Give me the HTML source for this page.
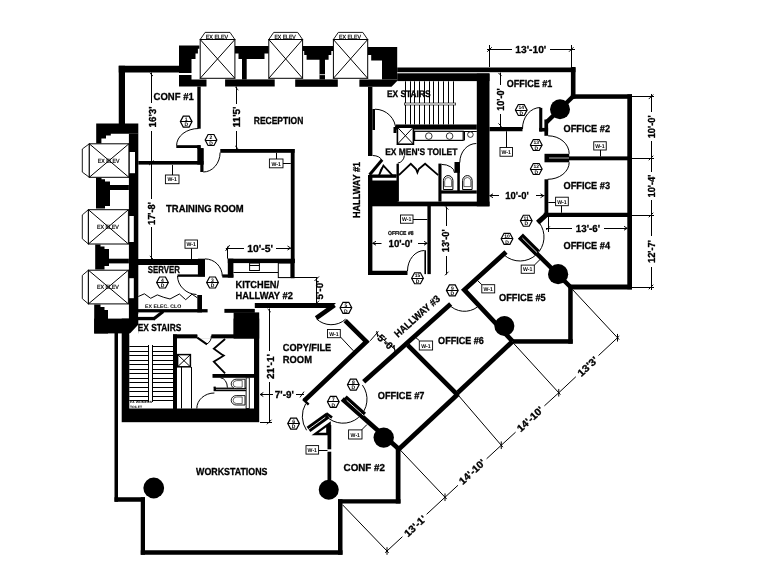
<!DOCTYPE html>
<html><head><meta charset="utf-8"><title>Floor Plan</title>
<style>
html,body{margin:0;padding:0;background:#fff;}
body{width:761px;height:588px;overflow:hidden;font-family:"Liberation Sans",sans-serif;}
svg{display:block;}
svg text{font-family:"Liberation Sans",sans-serif;fill:#000;text-rendering:geometricPrecision;}
</style></head><body>
<svg width="761" height="588" viewBox="0 0 761 588" style="filter:grayscale(1)">
<rect x="0" y="0" width="761" height="588" fill="#fff"/>
<rect x="118.75" y="65.75" width="61.25" height="6.75" fill="#000"/>
<rect x="118.75" y="65.75" width="6.25" height="58.25" fill="#000"/>
<polygon points="179.00,45.50 199.40,45.50 199.40,48.70 197.90,48.70 197.90,53.40 195.50,53.40 195.50,58.90 191.50,58.90 191.50,73.10 179.00,73.10" fill="#000" stroke="none" stroke-width="0"/>
<polygon points="179.00,75.10 191.50,75.10 191.50,79.40 206.50,79.40 206.50,86.50 179.00,86.50" fill="#000" stroke="none" stroke-width="0"/>
<polygon points="234.90,46.00 268.80,46.00 268.80,53.40 264.50,53.40 264.50,58.90 246.70,58.90 246.70,79.40 242.00,79.40 242.00,58.90 238.50,58.90 238.50,53.40 234.90,53.40" fill="#000" stroke="none" stroke-width="0"/>
<rect x="225.10" y="79.40" width="49.60" height="7.10" fill="#000"/>
<polygon points="302.60,46.00 333.40,46.00 333.40,51.00 331.30,51.00 331.30,55.00 328.60,55.00 328.60,59.70 325.00,59.70 325.00,79.40 319.50,79.40 319.50,59.70 306.60,59.70 306.60,55.00 304.20,55.00 304.20,51.00 302.60,51.00" fill="#000" stroke="none" stroke-width="0"/>
<rect x="319.50" y="74.30" width="5.50" height="0.80" fill="#fff"/>
<rect x="295.20" y="79.40" width="42.60" height="7.40" fill="#000"/>
<polygon points="367.70,47.00 397.20,47.00 397.20,79.40 382.00,79.40 382.00,60.50 371.20,60.50 371.20,55.00 367.70,55.00" fill="#000" stroke="none" stroke-width="0"/>
<polygon points="359.40,79.40 397.20,79.40 397.20,81.00 391.50,86.80 359.40,86.80" fill="#000" stroke="none" stroke-width="0"/>
<polygon points="200.20,39.50 205.10,32.40 230.00,32.40 234.90,39.50" fill="#fff" stroke="#000" stroke-width="0.9"/>
<rect x="200.20" y="39.5" width="34.70" height="38.8" fill="#fff" stroke="#000" stroke-width="1"/>
<line x1="200.20" y1="39.50" x2="234.90" y2="78.30" stroke="#000" stroke-width="1.0" stroke-linecap="butt"/>
<line x1="200.20" y1="78.30" x2="234.90" y2="39.50" stroke="#000" stroke-width="1.0" stroke-linecap="butt"/>
<text x="205.80" y="38.50" stroke="#000" stroke-width="0.2" font-size="6" font-weight="normal" textLength="22.30" lengthAdjust="spacingAndGlyphs">EX ELEV</text>
<polygon points="268.80,39.50 273.70,32.40 297.70,32.40 302.60,39.50" fill="#fff" stroke="#000" stroke-width="0.9"/>
<rect x="268.80" y="39.5" width="33.80" height="38.8" fill="#fff" stroke="#000" stroke-width="1"/>
<line x1="268.80" y1="39.50" x2="302.60" y2="78.30" stroke="#000" stroke-width="1.0" stroke-linecap="butt"/>
<line x1="268.80" y1="78.30" x2="302.60" y2="39.50" stroke="#000" stroke-width="1.0" stroke-linecap="butt"/>
<text x="274.40" y="38.50" stroke="#000" stroke-width="0.2" font-size="6" font-weight="normal" textLength="21.40" lengthAdjust="spacingAndGlyphs">EX ELEV</text>
<polygon points="333.40,39.50 338.30,32.40 362.80,32.40 367.70,39.50" fill="#fff" stroke="#000" stroke-width="0.9"/>
<rect x="333.40" y="39.5" width="34.30" height="38.8" fill="#fff" stroke="#000" stroke-width="1"/>
<line x1="333.40" y1="39.50" x2="367.70" y2="78.30" stroke="#000" stroke-width="1.0" stroke-linecap="butt"/>
<line x1="333.40" y1="78.30" x2="367.70" y2="39.50" stroke="#000" stroke-width="1.0" stroke-linecap="butt"/>
<text x="339.00" y="38.50" stroke="#000" stroke-width="0.2" font-size="6" font-weight="normal" textLength="21.90" lengthAdjust="spacingAndGlyphs">EX ELEV</text>
<rect x="397.20" y="67.50" width="178.30" height="4.70" fill="#000"/>
<rect x="397.20" y="73.30" width="92.30" height="7.80" fill="#000"/>
<rect x="476.80" y="73.60" width="12.70" height="132.70" fill="#000"/>
<polygon points="96.20,123.40 138.30,123.40 138.30,133.70 110.80,133.70 110.80,135.60 106.00,135.60 106.00,138.40 101.40,138.40 101.40,143.40 96.20,143.40" fill="#000" stroke="none" stroke-width="0"/>
<rect x="128.90" y="133.70" width="9.40" height="199.70" fill="#000"/>
<rect x="129.60" y="152.00" width="5.40" height="21.20" fill="#fff"/>
<rect x="129.40" y="216.00" width="4.40" height="26.00" fill="#fff"/>
<rect x="129.40" y="278.20" width="4.40" height="20.00" fill="#fff"/>
<polygon points="96.00,177.50 101.50,177.50 101.50,179.30 105.00,179.30 105.00,181.60 110.00,181.60 110.00,206.00 105.00,206.00 105.00,208.60 96.00,208.60" fill="#000" stroke="none" stroke-width="0"/>
<rect x="110.00" y="185.00" width="18.90" height="5.00" fill="#000"/>
<polygon points="95.20,244.50 100.50,244.50 100.50,246.50 104.50,246.50 104.50,249.00 109.00,249.00 109.00,266.00 104.50,266.00 104.50,269.40 95.20,269.40" fill="#000" stroke="none" stroke-width="0"/>
<rect x="109.00" y="258.70" width="19.90" height="4.70" fill="#000"/>
<polygon points="94.20,304.50 100.50,304.50 100.50,307.00 104.50,307.00 104.50,310.00 108.00,310.00 108.00,333.40 94.20,333.40" fill="#000" stroke="none" stroke-width="0"/>
<rect x="94.20" y="318.60" width="44.10" height="14.80" fill="#000"/>
<polygon points="89.30,143.80 82.30,149.00 82.30,172.10 89.30,177.30" fill="#fff" stroke="#000" stroke-width="0.9"/>
<rect x="89.30" y="143.8" width="39.60" height="33.5" fill="#fff" stroke="#000" stroke-width="1"/>
<line x1="89.30" y1="143.80" x2="128.90" y2="177.30" stroke="#000" stroke-width="1.0" stroke-linecap="butt"/>
<line x1="89.30" y1="177.30" x2="128.90" y2="143.80" stroke="#000" stroke-width="1.0" stroke-linecap="butt"/>
<text x="97.80" y="162.65" stroke="#000" stroke-width="0.2" font-size="6" font-weight="normal" textLength="21.60" lengthAdjust="spacingAndGlyphs">EX ELEV</text>
<polygon points="88.40,209.70 82.30,214.90 82.30,238.80 88.40,244.00" fill="#fff" stroke="#000" stroke-width="0.9"/>
<rect x="88.40" y="209.7" width="40.00" height="34.30000000000001" fill="#fff" stroke="#000" stroke-width="1"/>
<line x1="88.40" y1="209.70" x2="128.40" y2="244.00" stroke="#000" stroke-width="1.0" stroke-linecap="butt"/>
<line x1="88.40" y1="244.00" x2="128.40" y2="209.70" stroke="#000" stroke-width="1.0" stroke-linecap="butt"/>
<text x="96.90" y="228.95" stroke="#000" stroke-width="0.2" font-size="6" font-weight="normal" textLength="22.00" lengthAdjust="spacingAndGlyphs">EX ELEV</text>
<polygon points="88.40,270.20 82.30,275.40 82.30,298.70 88.40,303.90" fill="#fff" stroke="#000" stroke-width="0.9"/>
<rect x="88.40" y="270.2" width="40.00" height="33.69999999999999" fill="#fff" stroke="#000" stroke-width="1"/>
<line x1="88.40" y1="270.20" x2="128.40" y2="303.90" stroke="#000" stroke-width="1.0" stroke-linecap="butt"/>
<line x1="88.40" y1="303.90" x2="128.40" y2="270.20" stroke="#000" stroke-width="1.0" stroke-linecap="butt"/>
<text x="96.90" y="289.15" stroke="#000" stroke-width="0.2" font-size="6" font-weight="normal" textLength="22.00" lengthAdjust="spacingAndGlyphs">EX ELEV</text>
<rect x="197.30" y="86.50" width="3.40" height="42.20" fill="#000"/>
<rect x="176.30" y="145.20" width="24.30" height="2.80" fill="#000"/>
<rect x="197.30" y="145.20" width="3.30" height="3.80" fill="#000"/>
<rect x="197.30" y="148.20" width="6.20" height="16.40" fill="#000"/>
<rect x="138.30" y="161.00" width="65.20" height="3.60" fill="#000"/>
<rect x="200.30" y="148.20" width="3.20" height="23.80" fill="#000"/>
<path d="M 198.5 128.5 A 22 17 0 0 0 176.6 145.5" stroke="#000" stroke-width="1.0" fill="none"/>
<path d="M 203.3 172 A 16.8 19.5 0 0 0 220.1 152.5" stroke="#000" stroke-width="1.0" fill="none"/>
<rect x="220.30" y="149.00" width="74.30" height="3.80" fill="#000"/>
<rect x="290.80" y="149.00" width="3.80" height="129.25" fill="#000"/>
<rect x="138.00" y="259.00" width="66.25" height="6.00" fill="#000"/>
<rect x="197.90" y="258.70" width="7.10" height="17.60" fill="#000"/>
<rect x="197.30" y="295.00" width="4.70" height="17.40" fill="#000"/>
<path d="M 205 258.9 A 17.3 17.4 0 0 1 222.3 276.3" stroke="#000" stroke-width="1.0" fill="none"/>
<rect x="227.80" y="258.70" width="5.60" height="18.90" fill="#000"/>
<rect x="227.80" y="258.70" width="67.10" height="4.40" fill="#000"/>
<line x1="233.40" y1="272.50" x2="278.30" y2="272.50" stroke="#000" stroke-width="1.0" stroke-linecap="butt"/>
<line x1="278.30" y1="277.50" x2="317.50" y2="277.50" stroke="#000" stroke-width="1.0" stroke-linecap="butt"/>
<line x1="227.50" y1="246.50" x2="227.50" y2="258.70" stroke="#000" stroke-width="1.0" stroke-linecap="butt"/>
<path d="M 177.5 276 A 20 19 0 0 0 196.5 294.5" stroke="#000" stroke-width="1.0" fill="none"/>
<rect x="177.50" y="274.40" width="27.50" height="2.40" fill="#000"/>
<rect x="121.70" y="318.60" width="137.50" height="103.60" fill="#000"/>
<rect x="129.30" y="333.40" width="43.70" height="75.10" fill="#fff"/>
<rect x="176.90" y="338.20" width="77.10" height="70.30" fill="#fff"/>
<rect x="138.30" y="314.00" width="95.30" height="20.80" fill="#fff"/>
<polygon points="138.40,324.60 138.40,334.50 129.30,334.50 129.30,334.20" fill="#fff" stroke="none" stroke-width="0"/>
<rect x="114.50" y="332.75" width="3.50" height="169.00" fill="#000"/>
<rect x="114.50" y="497.25" width="30.50" height="4.50" fill="#000"/>
<rect x="140.75" y="497.25" width="4.25" height="57.50" fill="#000"/>
<rect x="140.75" y="550.25" width="201.75" height="4.50" fill="#000"/>
<rect x="338.00" y="499.25" width="4.50" height="55.50" fill="#000"/>
<rect x="338.00" y="499.25" width="62.50" height="4.25" fill="#000"/>
<rect x="395.75" y="448.50" width="4.75" height="55.00" fill="#000"/>
<line x1="129.30" y1="346.50" x2="173.00" y2="346.50" stroke="#000" stroke-width="1.0" stroke-linecap="butt"/>
<line x1="129.30" y1="351.50" x2="173.00" y2="351.50" stroke="#000" stroke-width="1.0" stroke-linecap="butt"/>
<line x1="129.30" y1="355.50" x2="173.00" y2="355.50" stroke="#000" stroke-width="1.0" stroke-linecap="butt"/>
<line x1="129.30" y1="360.50" x2="173.00" y2="360.50" stroke="#000" stroke-width="1.0" stroke-linecap="butt"/>
<line x1="129.30" y1="364.50" x2="173.00" y2="364.50" stroke="#000" stroke-width="1.0" stroke-linecap="butt"/>
<line x1="129.30" y1="369.50" x2="173.00" y2="369.50" stroke="#000" stroke-width="1.0" stroke-linecap="butt"/>
<line x1="129.30" y1="373.50" x2="173.00" y2="373.50" stroke="#000" stroke-width="1.0" stroke-linecap="butt"/>
<line x1="129.30" y1="378.50" x2="173.00" y2="378.50" stroke="#000" stroke-width="1.0" stroke-linecap="butt"/>
<line x1="129.30" y1="382.50" x2="173.00" y2="382.50" stroke="#000" stroke-width="1.0" stroke-linecap="butt"/>
<line x1="129.30" y1="387.50" x2="173.00" y2="387.50" stroke="#000" stroke-width="1.0" stroke-linecap="butt"/>
<line x1="129.30" y1="391.50" x2="173.00" y2="391.50" stroke="#000" stroke-width="1.0" stroke-linecap="butt"/>
<line x1="129.30" y1="396.50" x2="173.00" y2="396.50" stroke="#000" stroke-width="1.0" stroke-linecap="butt"/>
<line x1="129.30" y1="400.50" x2="173.00" y2="400.50" stroke="#000" stroke-width="1.0" stroke-linecap="butt"/>
<rect x="148.75" y="345.00" width="3.75" height="57.00" fill="#fff"/>
<line x1="148.50" y1="345.00" x2="148.50" y2="402.00" stroke="#000" stroke-width="1.0" stroke-linecap="butt"/>
<line x1="152.50" y1="345.00" x2="152.50" y2="402.00" stroke="#000" stroke-width="1.0" stroke-linecap="butt"/>
<polygon points="254.80,303.10 336.00,303.10 330.70,307.90 254.80,307.90" fill="#000" stroke="none" stroke-width="0"/>
<line x1="334.50" y1="305.20" x2="316.20" y2="318.20" stroke="#000" stroke-width="4.6" stroke-linecap="butt"/>
<path d="M 316.4 318.8 A 21.5 21.5 0 0 0 345.6 319.2" stroke="#000" stroke-width="1.0" fill="none"/>
<rect x="368.00" y="86.80" width="4.40" height="69.20" fill="#000"/>
<rect x="372.40" y="109.00" width="2.60" height="21.00" fill="#000"/>
<rect x="368.00" y="175.00" width="4.40" height="100.00" fill="#000"/>
<rect x="369.00" y="180.50" width="28.70" height="22.50" fill="#000"/>
<rect x="369.00" y="201.60" width="120.50" height="4.70" fill="#000"/>
<rect x="368.75" y="270.75" width="38.75" height="4.25" fill="#000"/>
<rect x="427.40" y="206.00" width="3.40" height="68.10" fill="#000"/>
<rect x="424.40" y="250.30" width="1.60" height="23.80" fill="#000"/>
<rect x="570.90" y="67.00" width="4.60" height="31.50" fill="#000"/>
<rect x="570.90" y="94.30" width="61.10" height="4.50" fill="#000"/>
<rect x="627.30" y="94.30" width="4.70" height="195.00" fill="#000"/>
<rect x="489.50" y="127.00" width="33.00" height="4.25" fill="#000"/>
<line x1="573.00" y1="96.50" x2="546.25" y2="122.50" stroke="#000" stroke-width="4.5" stroke-linecap="butt"/>
<rect x="544.40" y="119.50" width="3.70" height="16.30" fill="#000"/>
<rect x="539.20" y="107.90" width="3.10" height="23.60" fill="#000"/>
<rect x="539.20" y="127.90" width="8.90" height="3.60" fill="#000"/>
<path d="M 522.5 129 A 18 21 0 0 1 540.5 107.5" stroke="#000" stroke-width="1.0" fill="none"/>
<rect x="544.50" y="153.80" width="24.70" height="8.50" fill="#000"/>
<line x1="549.00" y1="158.00" x2="569.20" y2="158.00" stroke="#fff" stroke-width="0.7" stroke-linecap="butt"/>
<path d="M 548.1 135.8 A 21.1 18 0 0 1 569.2 153.8" stroke="#000" stroke-width="1.0" fill="none"/>
<rect x="569.00" y="156.40" width="63.00" height="3.90" fill="#000"/>
<path d="M 569.2 162.3 A 21.5 17 0 0 1 547.7 179.3" stroke="#000" stroke-width="1.0" fill="none"/>
<rect x="544.50" y="179.30" width="3.80" height="37.70" fill="#000"/>
<rect x="543.75" y="212.75" width="88.25" height="4.25" fill="#000"/>
<line x1="547.20" y1="214.00" x2="537.70" y2="222.70" stroke="#000" stroke-width="5" stroke-linecap="butt"/>
<line x1="520.00" y1="237.00" x2="570.50" y2="287.00" stroke="#000" stroke-width="4.5" stroke-linecap="butt"/>
<rect x="570.00" y="284.50" width="62.00" height="5.00" fill="#000"/>
<rect x="568.20" y="286.00" width="4.50" height="57.70" fill="#000"/>
<rect x="512.40" y="339.20" width="60.30" height="4.50" fill="#000"/>
<circle cx="560.00" cy="109.25" r="10" fill="#000" stroke="none" stroke-width="0"/>
<circle cx="558.10" cy="274.20" r="10.1" fill="#000" stroke="none" stroke-width="0"/>
<circle cx="504.40" cy="326.00" r="10" fill="#000" stroke="none" stroke-width="0"/>
<line x1="450.70" y1="304.00" x2="363.70" y2="381.70" stroke="#000" stroke-width="4.7" stroke-linecap="butt"/>
<line x1="407.70" y1="345.20" x2="458.30" y2="395.60" stroke="#000" stroke-width="4.7" stroke-linecap="butt"/>
<polyline points="345.2,320.6 366.4,341.6 304.3,400.6" fill="none" stroke="#000" stroke-width="4.7" stroke-linejoin="miter"/>
<polyline points="506,252 464.3,289.8 512.6,341.4" fill="none" stroke="#000" stroke-width="4.7" stroke-linejoin="miter"/>
<line x1="512.50" y1="341.50" x2="458.00" y2="392.50" stroke="#000" stroke-width="4.7" stroke-linecap="butt"/>
<line x1="458.00" y1="394.00" x2="398.50" y2="449.50" stroke="#000" stroke-width="4.7" stroke-linecap="butt"/>
<line x1="342.30" y1="399.00" x2="398.80" y2="449.00" stroke="#000" stroke-width="4.7" stroke-linecap="butt"/>
<circle cx="383.70" cy="437.60" r="10.2" fill="#000" stroke="none" stroke-width="0"/>
<rect x="327.50" y="425.00" width="3.75" height="24.30" fill="#000"/>
<rect x="327.50" y="451.70" width="3.75" height="38.30" fill="#000"/>
<circle cx="328.75" cy="489.75" r="10" fill="#000" stroke="none" stroke-width="0"/>
<circle cx="153.75" cy="488.00" r="10.4" fill="#000" stroke="none" stroke-width="0"/>
<text x="153.55" y="99.85" stroke="#000" stroke-width="0.3" font-size="10.2" font-weight="bold" textLength="40.20" lengthAdjust="spacingAndGlyphs">CONF #1</text>
<text x="253.80" y="123.95" stroke="#000" stroke-width="0.3" font-size="10.2" font-weight="bold" textLength="49.50" lengthAdjust="spacingAndGlyphs">RECEPTION</text>
<text x="166.05" y="211.85" stroke="#000" stroke-width="0.3" font-size="10.2" font-weight="bold" textLength="77.70" lengthAdjust="spacingAndGlyphs">TRAINING ROOM</text>
<text x="147.80" y="273.10" stroke="#000" stroke-width="0.3" font-size="10.2" font-weight="bold" textLength="32.20" lengthAdjust="spacingAndGlyphs">SERVER</text>
<text x="235.50" y="288.25" stroke="#000" stroke-width="0.3" font-size="10.2" font-weight="bold" textLength="43.50" lengthAdjust="spacingAndGlyphs">KITCHEN/</text>
<text x="235.50" y="299.45" stroke="#000" stroke-width="0.3" font-size="10.2" font-weight="bold" textLength="57.30" lengthAdjust="spacingAndGlyphs">HALLWAY #2</text>
<text x="387.00" y="97.45" stroke="#000" stroke-width="0.3" font-size="9.5" font-weight="bold" textLength="43.50" lengthAdjust="spacingAndGlyphs">EX STAIRS</text>
<text x="385.20" y="155.25" stroke="#000" stroke-width="0.3" font-size="9.5" font-weight="bold" textLength="72.20" lengthAdjust="spacingAndGlyphs">EX MEN'S TOILET</text>
<text x="137.80" y="330.85" stroke="#000" stroke-width="0.3" font-size="10.2" font-weight="bold" textLength="43.45" lengthAdjust="spacingAndGlyphs">EX STAIRS</text>
<text x="282.80" y="350.60" stroke="#000" stroke-width="0.3" font-size="10.2" font-weight="bold" textLength="48.45" lengthAdjust="spacingAndGlyphs">COPY/FILE</text>
<text x="282.80" y="362.60" stroke="#000" stroke-width="0.3" font-size="10.2" font-weight="bold" textLength="29.20" lengthAdjust="spacingAndGlyphs">ROOM</text>
<text x="196.05" y="474.60" stroke="#000" stroke-width="0.3" font-size="10.2" font-weight="bold" textLength="71.45" lengthAdjust="spacingAndGlyphs">WORKSTATIONS</text>
<text x="343.55" y="470.95" stroke="#000" stroke-width="0.3" font-size="10.2" font-weight="bold" textLength="41.45" lengthAdjust="spacingAndGlyphs">CONF #2</text>
<text x="506.80" y="87.45" stroke="#000" stroke-width="0.3" font-size="10.2" font-weight="bold" textLength="45.50" lengthAdjust="spacingAndGlyphs">OFFICE #1</text>
<text x="563.55" y="132.15" stroke="#000" stroke-width="0.3" font-size="10.2" font-weight="bold" textLength="46.45" lengthAdjust="spacingAndGlyphs">OFFICE #2</text>
<text x="563.55" y="189.25" stroke="#000" stroke-width="0.3" font-size="10.2" font-weight="bold" textLength="46.45" lengthAdjust="spacingAndGlyphs">OFFICE #3</text>
<text x="563.55" y="249.25" stroke="#000" stroke-width="0.3" font-size="10.2" font-weight="bold" textLength="46.45" lengthAdjust="spacingAndGlyphs">OFFICE #4</text>
<text x="499.00" y="300.95" stroke="#000" stroke-width="0.3" font-size="10.2" font-weight="bold" textLength="46.70" lengthAdjust="spacingAndGlyphs">OFFICE #5</text>
<text x="438.10" y="343.75" stroke="#000" stroke-width="0.3" font-size="10.2" font-weight="bold" textLength="45.80" lengthAdjust="spacingAndGlyphs">OFFICE #6</text>
<text x="377.80" y="399.35" stroke="#000" stroke-width="0.3" font-size="10.2" font-weight="bold" textLength="46.70" lengthAdjust="spacingAndGlyphs">OFFICE #7</text>
<text x="388.00" y="234.60" stroke="#000" stroke-width="0.2" font-size="5.8" font-weight="bold" textLength="25.50" lengthAdjust="spacingAndGlyphs">OFFICE #8</text>
<text stroke="#000" stroke-width="0.3" transform="translate(356.25,190.00) rotate(-90)" x="-28.00" y="3.65" font-size="10.2" font-weight="bold" textLength="56.00" lengthAdjust="spacingAndGlyphs">HALLWAY #1</text>
<text stroke="#000" stroke-width="0.3" transform="translate(417.00,316.20) rotate(-41.7)" x="-28.85" y="3.65" font-size="10.2" font-weight="bold" textLength="57.70" lengthAdjust="spacingAndGlyphs">HALLWAY #3</text>
<text x="145.00" y="308.40"  font-size="5.2" font-weight="bold" textLength="36.20" lengthAdjust="spacingAndGlyphs">EX ELEC. CLO</text>
<text x="130.00" y="403.30"  font-size="3.2" font-weight="bold" textLength="22.00" lengthAdjust="spacingAndGlyphs">EX WOMENS</text>
<text x="130.00" y="407.50"  font-size="3.2" font-weight="bold" textLength="12.00" lengthAdjust="spacingAndGlyphs">TOILET</text>
<line x1="487.00" y1="49.50" x2="512.00" y2="49.50" stroke="#000" stroke-width="1.0" stroke-linecap="butt"/>
<line x1="550.00" y1="49.50" x2="575.00" y2="49.50" stroke="#000" stroke-width="1.0" stroke-linecap="butt"/>
<line x1="489.50" y1="45.00" x2="489.50" y2="67.00" stroke="#000" stroke-width="1.0" stroke-linecap="butt"/>
<line x1="571.50" y1="45.00" x2="571.50" y2="67.00" stroke="#000" stroke-width="1.0" stroke-linecap="butt"/>
<line x1="487.24" y1="51.76" x2="491.76" y2="47.24" stroke="#000" stroke-width="1.0" stroke-linecap="butt"/>
<line x1="568.99" y1="51.76" x2="573.51" y2="47.24" stroke="#000" stroke-width="1.0" stroke-linecap="butt"/>
<text x="515.30" y="53.05" stroke="#000" stroke-width="0.3" font-size="10.2" font-weight="bold" textLength="30.95" lengthAdjust="spacingAndGlyphs">13'-10'</text>
<line x1="500.50" y1="72.60" x2="500.50" y2="85.00" stroke="#000" stroke-width="1.0" stroke-linecap="butt"/>
<line x1="500.50" y1="114.00" x2="500.50" y2="127.00" stroke="#000" stroke-width="1.0" stroke-linecap="butt"/>
<line x1="501.56" y1="76.06" x2="498.44" y2="72.94" stroke="#000" stroke-width="1.0" stroke-linecap="butt"/>
<line x1="501.56" y1="126.56" x2="498.44" y2="123.44" stroke="#000" stroke-width="1.0" stroke-linecap="butt"/>
<text stroke="#000" stroke-width="0.3" transform="translate(500.30,99.50) rotate(-90)" x="-11.25" y="3.65" font-size="10.2" font-weight="bold" textLength="22.50" lengthAdjust="spacingAndGlyphs">10'-0'</text>
<line x1="651.50" y1="94.00" x2="651.50" y2="112.00" stroke="#000" stroke-width="1.0" stroke-linecap="butt"/>
<line x1="651.50" y1="141.00" x2="651.50" y2="172.00" stroke="#000" stroke-width="1.0" stroke-linecap="butt"/>
<line x1="651.50" y1="200.00" x2="651.50" y2="236.00" stroke="#000" stroke-width="1.0" stroke-linecap="butt"/>
<line x1="651.50" y1="267.00" x2="651.50" y2="290.00" stroke="#000" stroke-width="1.0" stroke-linecap="butt"/>
<line x1="648.74" y1="99.06" x2="653.26" y2="94.54" stroke="#000" stroke-width="1.0" stroke-linecap="butt"/>
<line x1="632.00" y1="96.50" x2="654.00" y2="96.50" stroke="#000" stroke-width="1.0" stroke-linecap="butt"/>
<line x1="648.74" y1="160.26" x2="653.26" y2="155.74" stroke="#000" stroke-width="1.0" stroke-linecap="butt"/>
<line x1="632.00" y1="158.50" x2="654.00" y2="158.50" stroke="#000" stroke-width="1.0" stroke-linecap="butt"/>
<line x1="648.74" y1="217.26" x2="653.26" y2="212.74" stroke="#000" stroke-width="1.0" stroke-linecap="butt"/>
<line x1="632.00" y1="215.50" x2="654.00" y2="215.50" stroke="#000" stroke-width="1.0" stroke-linecap="butt"/>
<line x1="648.74" y1="289.26" x2="653.26" y2="284.74" stroke="#000" stroke-width="1.0" stroke-linecap="butt"/>
<line x1="632.00" y1="287.50" x2="654.00" y2="287.50" stroke="#000" stroke-width="1.0" stroke-linecap="butt"/>
<text stroke="#000" stroke-width="0.3" transform="translate(651.70,126.80) rotate(-90)" x="-11.50" y="3.65" font-size="10.2" font-weight="bold" textLength="23.00" lengthAdjust="spacingAndGlyphs">10'-0'</text>
<text stroke="#000" stroke-width="0.3" transform="translate(651.70,186.00) rotate(-90)" x="-11.50" y="3.65" font-size="10.2" font-weight="bold" textLength="23.00" lengthAdjust="spacingAndGlyphs">10'-4'</text>
<text stroke="#000" stroke-width="0.3" transform="translate(651.70,251.50) rotate(-90)" x="-11.50" y="3.65" font-size="10.2" font-weight="bold" textLength="23.00" lengthAdjust="spacingAndGlyphs">12'-7'</text>
<line x1="489.50" y1="195.50" x2="499.00" y2="195.50" stroke="#000" stroke-width="1.0" stroke-linecap="butt"/>
<line x1="536.00" y1="195.50" x2="544.50" y2="195.50" stroke="#000" stroke-width="1.0" stroke-linecap="butt"/>
<text x="505.30" y="199.45" stroke="#000" stroke-width="0.3" font-size="10.2" font-weight="bold" textLength="23.45" lengthAdjust="spacingAndGlyphs">10'-0'</text>
<path d="M 493 193.8 L 489.8 195.75 L 493 197.7" stroke="#000" stroke-width="1.0" fill="none"/>
<path d="M 540.5 193.8 L 543.6 195.75 L 540.5 197.7" stroke="#000" stroke-width="1.0" fill="none"/>
<line x1="546.00" y1="228.50" x2="572.00" y2="228.50" stroke="#000" stroke-width="1.0" stroke-linecap="butt"/>
<line x1="604.00" y1="228.50" x2="627.30" y2="228.50" stroke="#000" stroke-width="1.0" stroke-linecap="butt"/>
<text x="575.80" y="231.85" stroke="#000" stroke-width="0.3" font-size="10.2" font-weight="bold" textLength="24.20" lengthAdjust="spacingAndGlyphs">13'-6'</text>
<line x1="546.23" y1="230.02" x2="549.77" y2="226.48" stroke="#000" stroke-width="1.0" stroke-linecap="butt"/>
<path d="M 624 226.3 L 627.2 228.25 L 624 230.2" stroke="#000" stroke-width="1.0" fill="none"/>
<line x1="372.50" y1="243.50" x2="381.50" y2="243.50" stroke="#000" stroke-width="1.0" stroke-linecap="butt"/>
<line x1="418.00" y1="243.50" x2="427.40" y2="243.50" stroke="#000" stroke-width="1.0" stroke-linecap="butt"/>
<text x="388.55" y="247.15" stroke="#000" stroke-width="0.3" font-size="10.2" font-weight="bold" textLength="23.95" lengthAdjust="spacingAndGlyphs">10'-0'</text>
<path d="M 376 241.3 L 372.7 243.25 L 376 245.2" stroke="#000" stroke-width="1.0" fill="none"/>
<path d="M 424 241.3 L 427.2 243.25 L 424 245.2" stroke="#000" stroke-width="1.0" fill="none"/>
<line x1="446.50" y1="206.50" x2="446.50" y2="226.00" stroke="#000" stroke-width="1.0" stroke-linecap="butt"/>
<line x1="446.50" y1="256.00" x2="446.50" y2="274.50" stroke="#000" stroke-width="1.0" stroke-linecap="butt"/>
<text stroke="#000" stroke-width="0.3" transform="translate(445.30,240.75) rotate(-90)" x="-11.50" y="3.65" font-size="10.2" font-weight="bold" textLength="23.00" lengthAdjust="spacingAndGlyphs">13'-0'</text>
<line x1="448.31" y1="209.56" x2="445.19" y2="206.44" stroke="#000" stroke-width="1.0" stroke-linecap="butt"/>
<line x1="444.98" y1="275.27" x2="448.52" y2="271.73" stroke="#000" stroke-width="1.0" stroke-linecap="butt"/>
<line x1="151.50" y1="72.50" x2="151.50" y2="103.00" stroke="#000" stroke-width="1.0" stroke-linecap="butt"/>
<line x1="151.50" y1="131.00" x2="151.50" y2="199.00" stroke="#000" stroke-width="1.0" stroke-linecap="butt"/>
<line x1="151.50" y1="227.00" x2="151.50" y2="259.00" stroke="#000" stroke-width="1.0" stroke-linecap="butt"/>
<text stroke="#000" stroke-width="0.3" transform="translate(152.00,117.00) rotate(-90)" x="-10.50" y="3.65" font-size="10.2" font-weight="bold" textLength="21.00" lengthAdjust="spacingAndGlyphs">16'3'</text>
<text stroke="#000" stroke-width="0.3" transform="translate(151.50,213.50) rotate(-90)" x="-11.50" y="3.65" font-size="10.2" font-weight="bold" textLength="23.00" lengthAdjust="spacingAndGlyphs">17'-8'</text>
<line x1="152.96" y1="76.06" x2="149.84" y2="72.94" stroke="#000" stroke-width="1.0" stroke-linecap="butt"/>
<line x1="149.14" y1="165.06" x2="153.66" y2="160.54" stroke="#000" stroke-width="1.0" stroke-linecap="butt"/>
<line x1="152.96" y1="259.06" x2="149.84" y2="255.94" stroke="#000" stroke-width="1.0" stroke-linecap="butt"/>
<line x1="236.50" y1="86.50" x2="236.50" y2="104.00" stroke="#000" stroke-width="1.0" stroke-linecap="butt"/>
<line x1="236.50" y1="131.00" x2="236.50" y2="149.00" stroke="#000" stroke-width="1.0" stroke-linecap="butt"/>
<text stroke="#000" stroke-width="0.3" transform="translate(236.80,117.00) rotate(-90)" x="-10.50" y="3.65" font-size="10.2" font-weight="bold" textLength="21.00" lengthAdjust="spacingAndGlyphs">11'5'</text>
<line x1="238.36" y1="90.06" x2="235.24" y2="86.94" stroke="#000" stroke-width="1.0" stroke-linecap="butt"/>
<line x1="238.36" y1="149.06" x2="235.24" y2="145.94" stroke="#000" stroke-width="1.0" stroke-linecap="butt"/>
<line x1="225.80" y1="248.50" x2="244.00" y2="248.50" stroke="#000" stroke-width="1.0" stroke-linecap="butt"/>
<line x1="276.00" y1="248.50" x2="290.80" y2="248.50" stroke="#000" stroke-width="1.0" stroke-linecap="butt"/>
<text x="247.30" y="251.65" stroke="#000" stroke-width="0.3" font-size="10.2" font-weight="bold" textLength="25.70" lengthAdjust="spacingAndGlyphs">10'-5'</text>
<line x1="225.59" y1="250.87" x2="229.61" y2="245.13" stroke="#000" stroke-width="1.0" stroke-linecap="butt"/>
<path d="M 287.5 246 L 290.6 248 L 287.5 250" stroke="#000" stroke-width="1.0" fill="none"/>
<line x1="316.50" y1="277.00" x2="316.50" y2="303.00" stroke="#000" stroke-width="1.0" stroke-linecap="butt"/>
<line x1="314.49" y1="281.01" x2="319.01" y2="276.49" stroke="#000" stroke-width="1.0" stroke-linecap="butt"/>
<line x1="314.49" y1="305.26" x2="319.01" y2="300.74" stroke="#000" stroke-width="1.0" stroke-linecap="butt"/>
<text stroke="#000" stroke-width="0.3" transform="translate(319.20,290.00) rotate(-90)" x="-9.50" y="3.58" font-size="10" font-weight="bold" textLength="19.00" lengthAdjust="spacingAndGlyphs">5'-0'</text>
<line x1="269.50" y1="308.50" x2="269.50" y2="351.00" stroke="#000" stroke-width="1.0" stroke-linecap="butt"/>
<line x1="269.50" y1="382.00" x2="269.50" y2="422.00" stroke="#000" stroke-width="1.0" stroke-linecap="butt"/>
<text stroke="#000" stroke-width="0.3" transform="translate(270.00,366.50) rotate(-90)" x="-12.50" y="3.65" font-size="10.2" font-weight="bold" textLength="25.00" lengthAdjust="spacingAndGlyphs">21'-1'</text>
<line x1="270.76" y1="312.06" x2="267.64" y2="308.94" stroke="#000" stroke-width="1.0" stroke-linecap="butt"/>
<line x1="266.94" y1="424.26" x2="271.46" y2="419.74" stroke="#000" stroke-width="1.0" stroke-linecap="butt"/>
<line x1="260.00" y1="422.50" x2="272.00" y2="422.50" stroke="#000" stroke-width="1.0" stroke-linecap="butt"/>
<line x1="260.00" y1="394.50" x2="273.00" y2="394.50" stroke="#000" stroke-width="1.0" stroke-linecap="butt"/>
<line x1="296.00" y1="394.50" x2="304.00" y2="394.50" stroke="#000" stroke-width="1.0" stroke-linecap="butt"/>
<text x="274.80" y="397.75" stroke="#000" stroke-width="0.3" font-size="10.2" font-weight="bold" textLength="18.95" lengthAdjust="spacingAndGlyphs">7'-9'</text>
<path d="M 263.3 392.5 L 260.2 394.5 L 263.3 396.5" stroke="#000" stroke-width="1.0" fill="none"/>
<line x1="299.99" y1="397.37" x2="304.01" y2="391.63" stroke="#000" stroke-width="1.0" stroke-linecap="butt"/>
<line x1="375.90" y1="333.00" x2="395.50" y2="349.90" stroke="#000" stroke-width="1.0" stroke-linecap="butt"/>
<text stroke="#000" stroke-width="0.3" transform="translate(386.10,342.40) rotate(42)" x="-9.50" y="3.58" font-size="10" font-weight="bold" textLength="19.00" lengthAdjust="spacingAndGlyphs">5'-0'</text>
<line x1="377.72" y1="336.95" x2="376.68" y2="331.05" stroke="#000" stroke-width="1.0" stroke-linecap="butt"/>
<line x1="395.02" y1="351.95" x2="393.98" y2="346.05" stroke="#000" stroke-width="1.0" stroke-linecap="butt"/>
<line x1="370.20" y1="340.80" x2="378.40" y2="331.40" stroke="#000" stroke-width="1.0" stroke-linecap="butt"/>
<line x1="572.50" y1="289.50" x2="619.21" y2="339.58" stroke="#000" stroke-width="1.0" stroke-linecap="butt"/>
<line x1="617.50" y1="341.55" x2="617.50" y2="333.95" stroke="#000" stroke-width="1.0" stroke-linecap="butt"/>
<line x1="513.75" y1="343.50" x2="560.44" y2="394.60" stroke="#000" stroke-width="1.0" stroke-linecap="butt"/>
<line x1="558.75" y1="396.55" x2="558.75" y2="388.95" stroke="#000" stroke-width="1.0" stroke-linecap="butt"/>
<line x1="458.50" y1="395.50" x2="502.88" y2="447.15" stroke="#000" stroke-width="1.0" stroke-linecap="butt"/>
<line x1="501.25" y1="449.05" x2="501.25" y2="441.45" stroke="#000" stroke-width="1.0" stroke-linecap="butt"/>
<line x1="400.00" y1="449.75" x2="446.72" y2="499.06" stroke="#000" stroke-width="1.0" stroke-linecap="butt"/>
<line x1="445.00" y1="501.05" x2="445.00" y2="493.45" stroke="#000" stroke-width="1.0" stroke-linecap="butt"/>
<line x1="342.50" y1="504.75" x2="388.73" y2="552.80" stroke="#000" stroke-width="1.0" stroke-linecap="butt"/>
<line x1="387.00" y1="554.80" x2="387.00" y2="547.20" stroke="#000" stroke-width="1.0" stroke-linecap="butt"/>
<line x1="619.33" y1="336.04" x2="598.48" y2="355.55" stroke="#000" stroke-width="1.0" stroke-linecap="butt"/>
<line x1="575.85" y1="376.74" x2="558.75" y2="392.75" stroke="#000" stroke-width="1.0" stroke-linecap="butt"/>
<text stroke="#000" stroke-width="0.3" transform="translate(587.50,366.50) rotate(-42.9)" x="-12.00" y="3.58" font-size="10" font-weight="bold" textLength="24.00" lengthAdjust="spacingAndGlyphs">13'3'</text>
<line x1="558.75" y1="392.75" x2="544.40" y2="405.85" stroke="#000" stroke-width="1.0" stroke-linecap="butt"/>
<line x1="515.60" y1="432.15" x2="501.25" y2="445.25" stroke="#000" stroke-width="1.0" stroke-linecap="butt"/>
<text stroke="#000" stroke-width="0.3" transform="translate(530.00,419.00) rotate(-42.9)" x="-16.00" y="3.58" font-size="10" font-weight="bold" textLength="32.00" lengthAdjust="spacingAndGlyphs">14'-10'</text>
<line x1="501.25" y1="445.25" x2="486.61" y2="458.78" stroke="#000" stroke-width="1.0" stroke-linecap="butt"/>
<line x1="457.98" y1="485.26" x2="445.00" y2="497.25" stroke="#000" stroke-width="1.0" stroke-linecap="butt"/>
<text stroke="#000" stroke-width="0.3" transform="translate(472.00,471.70) rotate(-42.9)" x="-16.00" y="3.58" font-size="10" font-weight="bold" textLength="32.00" lengthAdjust="spacingAndGlyphs">14'-10'</text>
<line x1="445.00" y1="497.25" x2="426.63" y2="514.27" stroke="#000" stroke-width="1.0" stroke-linecap="butt"/>
<line x1="402.42" y1="536.71" x2="385.17" y2="552.70" stroke="#000" stroke-width="1.0" stroke-linecap="butt"/>
<text stroke="#000" stroke-width="0.3" transform="translate(415.00,526.00) rotate(-42.9)" x="-13.00" y="3.58" font-size="10" font-weight="bold" textLength="26.00" lengthAdjust="spacingAndGlyphs">13'-1'</text>
<polygon points="180.35,121.60 183.27,116.10 189.12,116.10 192.05,121.60 189.12,127.10 183.27,127.10" fill="#fff" stroke="#000" stroke-width="1.2"/>
<line x1="180.35" y1="121.50" x2="192.05" y2="121.50" stroke="#000" stroke-width="1.0" stroke-linecap="butt"/>
<text x="186.20" y="120.70" font-size="5" font-weight="bold" text-anchor="middle">1</text>
<text x="186.20" y="126.30" font-size="5" font-weight="bold" text-anchor="middle">D</text>
<polygon points="205.15,140.00 208.07,134.50 213.93,134.50 216.85,140.00 213.93,145.50 208.07,145.50" fill="#fff" stroke="#000" stroke-width="1.2"/>
<line x1="205.15" y1="140.50" x2="216.85" y2="140.50" stroke="#000" stroke-width="1.0" stroke-linecap="butt"/>
<text x="211.00" y="139.10" font-size="5" font-weight="bold" text-anchor="middle">2</text>
<text x="211.00" y="144.70" font-size="5" font-weight="bold" text-anchor="middle">D</text>
<polygon points="206.65,282.50 209.57,277.00 215.43,277.00 218.35,282.50 215.43,288.00 209.57,288.00" fill="#fff" stroke="#000" stroke-width="1.2"/>
<line x1="206.65" y1="282.50" x2="218.35" y2="282.50" stroke="#000" stroke-width="1.0" stroke-linecap="butt"/>
<text x="212.50" y="281.60" font-size="5" font-weight="bold" text-anchor="middle">3</text>
<text x="212.50" y="287.20" font-size="5" font-weight="bold" text-anchor="middle">D</text>
<polygon points="156.65,282.50 159.57,277.00 165.43,277.00 168.35,282.50 165.43,288.00 159.57,288.00" fill="#fff" stroke="#000" stroke-width="1.2"/>
<line x1="156.65" y1="282.50" x2="168.35" y2="282.50" stroke="#000" stroke-width="1.0" stroke-linecap="butt"/>
<text x="162.50" y="281.60" font-size="5" font-weight="bold" text-anchor="middle">4</text>
<text x="162.50" y="287.20" font-size="5" font-weight="bold" text-anchor="middle">D</text>
<polygon points="340.05,307.80 342.97,302.30 348.82,302.30 351.75,307.80 348.82,313.30 342.97,313.30" fill="#fff" stroke="#000" stroke-width="1.2"/>
<line x1="340.05" y1="307.50" x2="351.75" y2="307.50" stroke="#000" stroke-width="1.0" stroke-linecap="butt"/>
<text x="345.90" y="306.90" font-size="5" font-weight="bold" text-anchor="middle">5</text>
<text x="345.90" y="312.50" font-size="5" font-weight="bold" text-anchor="middle">D</text>
<polygon points="287.75,423.60 290.68,418.10 296.53,418.10 299.45,423.60 296.53,429.10 290.68,429.10" fill="#fff" stroke="#000" stroke-width="1.2"/>
<line x1="287.75" y1="423.50" x2="299.45" y2="423.50" stroke="#000" stroke-width="1.0" stroke-linecap="butt"/>
<text x="293.60" y="422.70" font-size="5" font-weight="bold" text-anchor="middle">6</text>
<text x="293.60" y="428.30" font-size="5" font-weight="bold" text-anchor="middle">D</text>
<polygon points="327.45,401.80 330.38,396.30 336.23,396.30 339.15,401.80 336.23,407.30 330.38,407.30" fill="#fff" stroke="#000" stroke-width="1.2"/>
<line x1="327.45" y1="401.50" x2="339.15" y2="401.50" stroke="#000" stroke-width="1.0" stroke-linecap="butt"/>
<text x="333.30" y="400.90" font-size="5" font-weight="bold" text-anchor="middle">7</text>
<text x="333.30" y="406.50" font-size="5" font-weight="bold" text-anchor="middle">D</text>
<polygon points="347.45,384.70 350.38,379.20 356.23,379.20 359.15,384.70 356.23,390.20 350.38,390.20" fill="#fff" stroke="#000" stroke-width="1.2"/>
<line x1="347.45" y1="384.50" x2="359.15" y2="384.50" stroke="#000" stroke-width="1.0" stroke-linecap="butt"/>
<text x="353.30" y="383.80" font-size="5" font-weight="bold" text-anchor="middle">8</text>
<text x="353.30" y="389.40" font-size="5" font-weight="bold" text-anchor="middle">D</text>
<polygon points="446.45,290.40 449.38,284.90 455.23,284.90 458.15,290.40 455.23,295.90 449.38,295.90" fill="#fff" stroke="#000" stroke-width="1.2"/>
<line x1="446.45" y1="290.50" x2="458.15" y2="290.50" stroke="#000" stroke-width="1.0" stroke-linecap="butt"/>
<text x="452.30" y="289.50" font-size="5" font-weight="bold" text-anchor="middle">9</text>
<text x="452.30" y="295.10" font-size="5" font-weight="bold" text-anchor="middle">D</text>
<polygon points="501.15,238.80 504.07,233.30 509.93,233.30 512.85,238.80 509.93,244.30 504.07,244.30" fill="#fff" stroke="#000" stroke-width="1.2"/>
<line x1="501.15" y1="238.50" x2="512.85" y2="238.50" stroke="#000" stroke-width="1.0" stroke-linecap="butt"/>
<text x="507.00" y="237.90" font-size="5" font-weight="bold" text-anchor="middle">10</text>
<text x="507.00" y="243.50" font-size="5" font-weight="bold" text-anchor="middle">D</text>
<polygon points="520.40,220.75 523.33,215.25 529.17,215.25 532.10,220.75 529.17,226.25 523.33,226.25" fill="#fff" stroke="#000" stroke-width="1.2"/>
<line x1="520.40" y1="220.50" x2="532.10" y2="220.50" stroke="#000" stroke-width="1.0" stroke-linecap="butt"/>
<text x="526.25" y="219.85" font-size="5" font-weight="bold" text-anchor="middle">11</text>
<text x="526.25" y="225.45" font-size="5" font-weight="bold" text-anchor="middle">D</text>
<polygon points="530.40,169.00 533.33,163.50 539.17,163.50 542.10,169.00 539.17,174.50 533.33,174.50" fill="#fff" stroke="#000" stroke-width="1.2"/>
<line x1="530.40" y1="169.50" x2="542.10" y2="169.50" stroke="#000" stroke-width="1.0" stroke-linecap="butt"/>
<text x="536.25" y="168.10" font-size="5" font-weight="bold" text-anchor="middle">12</text>
<text x="536.25" y="173.70" font-size="5" font-weight="bold" text-anchor="middle">D</text>
<polygon points="530.40,145.00 533.33,139.50 539.17,139.50 542.10,145.00 539.17,150.50 533.33,150.50" fill="#fff" stroke="#000" stroke-width="1.2"/>
<line x1="530.40" y1="145.50" x2="542.10" y2="145.50" stroke="#000" stroke-width="1.0" stroke-linecap="butt"/>
<text x="536.25" y="144.10" font-size="5" font-weight="bold" text-anchor="middle">13</text>
<text x="536.25" y="149.70" font-size="5" font-weight="bold" text-anchor="middle">D</text>
<polygon points="515.40,110.00 518.33,104.50 524.17,104.50 527.10,110.00 524.17,115.50 518.33,115.50" fill="#fff" stroke="#000" stroke-width="1.2"/>
<line x1="515.40" y1="110.50" x2="527.10" y2="110.50" stroke="#000" stroke-width="1.0" stroke-linecap="butt"/>
<text x="521.25" y="109.10" font-size="5" font-weight="bold" text-anchor="middle">14</text>
<text x="521.25" y="114.70" font-size="5" font-weight="bold" text-anchor="middle">D</text>
<polygon points="411.65,278.25 414.57,272.75 420.43,272.75 423.35,278.25 420.43,283.75 414.57,283.75" fill="#fff" stroke="#000" stroke-width="1.2"/>
<line x1="411.65" y1="278.50" x2="423.35" y2="278.50" stroke="#000" stroke-width="1.0" stroke-linecap="butt"/>
<text x="417.50" y="277.35" font-size="5" font-weight="bold" text-anchor="middle">15</text>
<text x="417.50" y="282.95" font-size="5" font-weight="bold" text-anchor="middle">D</text>
<line x1="172.50" y1="165.00" x2="172.50" y2="175.00" stroke="#000" stroke-width="1.0" stroke-linecap="butt"/>
<rect x="165.40" y="175.00" width="13.60" height="8.70" fill="#fff" stroke="#000" stroke-width="0.9"/>
<text x="172.20" y="181.45" font-size="5.6" font-weight="bold" text-anchor="middle" textLength="9.4" lengthAdjust="spacingAndGlyphs">W-1</text>
<line x1="276.50" y1="152.80" x2="276.50" y2="159.00" stroke="#000" stroke-width="1.0" stroke-linecap="butt"/>
<line x1="283.00" y1="163.50" x2="290.80" y2="163.50" stroke="#000" stroke-width="1.0" stroke-linecap="butt"/>
<rect x="269.40" y="159.00" width="13.60" height="8.80" fill="#fff" stroke="#000" stroke-width="0.9"/>
<text x="276.20" y="165.50" font-size="5.6" font-weight="bold" text-anchor="middle" textLength="9.4" lengthAdjust="spacingAndGlyphs">W-1</text>
<line x1="191.50" y1="248.25" x2="191.50" y2="259.00" stroke="#000" stroke-width="1.0" stroke-linecap="butt"/>
<rect x="185.00" y="240.00" width="12.50" height="8.25" fill="#fff" stroke="#000" stroke-width="0.9"/>
<text x="191.25" y="246.22" font-size="5.6" font-weight="bold" text-anchor="middle" textLength="9.4" lengthAdjust="spacingAndGlyphs">W-1</text>
<line x1="413.00" y1="219.50" x2="427.40" y2="219.50" stroke="#000" stroke-width="1.0" stroke-linecap="butt"/>
<rect x="400.50" y="215.00" width="12.50" height="8.25" fill="#fff" stroke="#000" stroke-width="0.9"/>
<text x="406.75" y="221.22" font-size="5.6" font-weight="bold" text-anchor="middle" textLength="9.4" lengthAdjust="spacingAndGlyphs">W-1</text>
<line x1="506.50" y1="131.25" x2="506.50" y2="147.50" stroke="#000" stroke-width="1.0" stroke-linecap="butt"/>
<rect x="500.00" y="147.50" width="12.50" height="8.75" fill="#fff" stroke="#000" stroke-width="0.9"/>
<text x="506.25" y="153.97" font-size="5.6" font-weight="bold" text-anchor="middle" textLength="9.4" lengthAdjust="spacingAndGlyphs">W-1</text>
<line x1="600.50" y1="150.00" x2="600.50" y2="156.50" stroke="#000" stroke-width="1.0" stroke-linecap="butt"/>
<rect x="593.75" y="141.75" width="12.50" height="8.25" fill="#fff" stroke="#000" stroke-width="0.9"/>
<text x="600.00" y="147.97" font-size="5.6" font-weight="bold" text-anchor="middle" textLength="9.4" lengthAdjust="spacingAndGlyphs">W-1</text>
<line x1="561.50" y1="205.75" x2="561.50" y2="212.75" stroke="#000" stroke-width="1.0" stroke-linecap="butt"/>
<line x1="548.30" y1="202.50" x2="555.60" y2="202.50" stroke="#000" stroke-width="1.0" stroke-linecap="butt"/>
<rect x="555.60" y="197.20" width="12.70" height="8.50" fill="#fff" stroke="#000" stroke-width="0.9"/>
<text x="561.95" y="203.55" font-size="5.6" font-weight="bold" text-anchor="middle" textLength="9.4" lengthAdjust="spacingAndGlyphs">W-1</text>
<line x1="534.30" y1="265.20" x2="540.00" y2="259.50" stroke="#000" stroke-width="1.0" stroke-linecap="butt"/>
<rect x="521.20" y="265.10" width="13.10" height="8.20" fill="#fff" stroke="#000" stroke-width="0.9"/>
<text x="527.75" y="271.30" font-size="5.6" font-weight="bold" text-anchor="middle" textLength="9.4" lengthAdjust="spacingAndGlyphs">W-1</text>
<line x1="481.80" y1="284.70" x2="477.50" y2="280.50" stroke="#000" stroke-width="1.0" stroke-linecap="butt"/>
<rect x="481.80" y="284.70" width="12.90" height="8.20" fill="#fff" stroke="#000" stroke-width="0.9"/>
<text x="488.25" y="290.90" font-size="5.6" font-weight="bold" text-anchor="middle" textLength="9.4" lengthAdjust="spacingAndGlyphs">W-1</text>
<line x1="419.30" y1="340.50" x2="415.00" y2="337.00" stroke="#000" stroke-width="1.0" stroke-linecap="butt"/>
<rect x="419.30" y="341.00" width="13.30" height="9.00" fill="#fff" stroke="#000" stroke-width="0.9"/>
<text x="425.95" y="347.60" font-size="5.6" font-weight="bold" text-anchor="middle" textLength="9.4" lengthAdjust="spacingAndGlyphs">W-1</text>
<line x1="340.30" y1="336.80" x2="353.40" y2="350.80" stroke="#000" stroke-width="1.0" stroke-linecap="butt"/>
<rect x="327.50" y="329.50" width="12.80" height="8.20" fill="#fff" stroke="#000" stroke-width="0.9"/>
<text x="333.90" y="335.70" font-size="5.6" font-weight="bold" text-anchor="middle" textLength="9.4" lengthAdjust="spacingAndGlyphs">W-1</text>
<line x1="361.50" y1="430.00" x2="367.00" y2="424.50" stroke="#000" stroke-width="1.0" stroke-linecap="butt"/>
<rect x="348.60" y="429.90" width="13.40" height="9.10" fill="#fff" stroke="#000" stroke-width="0.9"/>
<text x="355.30" y="436.55" font-size="5.6" font-weight="bold" text-anchor="middle" textLength="9.4" lengthAdjust="spacingAndGlyphs">W-1</text>
<line x1="318.60" y1="450.50" x2="327.50" y2="450.50" stroke="#000" stroke-width="1.0" stroke-linecap="butt"/>
<rect x="306.00" y="445.60" width="12.60" height="8.50" fill="#fff" stroke="#000" stroke-width="0.9"/>
<text x="312.30" y="451.95" font-size="5.6" font-weight="bold" text-anchor="middle" textLength="9.4" lengthAdjust="spacingAndGlyphs">W-1</text>
<rect x="138.00" y="309.10" width="69.60" height="3.30" fill="#000"/>
<line x1="163.20" y1="311.50" x2="153.20" y2="319.20" stroke="#000" stroke-width="3.2" stroke-linecap="butt"/>
<rect x="138.00" y="316.90" width="16.60" height="3.30" fill="#000"/>
<rect x="224.40" y="308.90" width="30.40" height="3.90" fill="#000"/>
<rect x="233.60" y="312.40" width="25.60" height="26.20" fill="#000"/>
<rect x="222.30" y="274.40" width="11.10" height="3.20" fill="#000"/>
<polyline points="138.3,296.5 144.4,293.8 150.7,298.3 157.3,294.9 163.7,297.3 170,299 179.4,294 185.7,299.7 192,294.2 197.3,297.8" fill="none" stroke="#000" stroke-width="1" stroke-linejoin="round"/>
<rect x="249.6" y="263.1" width="9.8" height="7.4" fill="#fff" stroke="#000" stroke-width="1"/>
<line x1="249.60" y1="265.50" x2="259.40" y2="265.50" stroke="#000" stroke-width="1.0" stroke-linecap="butt"/>
<rect x="278.3" y="263.1" width="12.6" height="14.5" fill="#fff" stroke="#000" stroke-width="1"/>
<line x1="405.50" y1="81.30" x2="405.50" y2="124.50" stroke="#000" stroke-width="1.0" stroke-linecap="butt"/>
<line x1="410.50" y1="81.30" x2="410.50" y2="124.50" stroke="#000" stroke-width="1.0" stroke-linecap="butt"/>
<line x1="414.50" y1="81.30" x2="414.50" y2="124.50" stroke="#000" stroke-width="1.0" stroke-linecap="butt"/>
<line x1="419.50" y1="81.30" x2="419.50" y2="124.50" stroke="#000" stroke-width="1.0" stroke-linecap="butt"/>
<line x1="424.50" y1="81.30" x2="424.50" y2="124.50" stroke="#000" stroke-width="1.0" stroke-linecap="butt"/>
<line x1="429.50" y1="81.30" x2="429.50" y2="124.50" stroke="#000" stroke-width="1.0" stroke-linecap="butt"/>
<line x1="433.50" y1="81.30" x2="433.50" y2="124.50" stroke="#000" stroke-width="1.0" stroke-linecap="butt"/>
<line x1="438.50" y1="81.30" x2="438.50" y2="124.50" stroke="#000" stroke-width="1.0" stroke-linecap="butt"/>
<line x1="443.50" y1="81.30" x2="443.50" y2="124.50" stroke="#000" stroke-width="1.0" stroke-linecap="butt"/>
<line x1="448.50" y1="81.30" x2="448.50" y2="124.50" stroke="#000" stroke-width="1.0" stroke-linecap="butt"/>
<line x1="453.50" y1="81.30" x2="453.50" y2="124.50" stroke="#000" stroke-width="1.0" stroke-linecap="butt"/>
<rect x="404.5" y="103" width="51.2" height="2" fill="#fff" stroke="#000" stroke-width="0.6"/>
<rect x="395.80" y="124.50" width="81.00" height="5.10" fill="#000"/>
<rect x="397.4" y="127.2" width="16" height="17" fill="#fff" stroke="#000" stroke-width="1.6"/>
<line x1="397.40" y1="127.20" x2="413.40" y2="144.20" stroke="#000" stroke-width="1.0" stroke-linecap="butt"/>
<line x1="397.40" y1="144.20" x2="413.40" y2="127.20" stroke="#000" stroke-width="1.0" stroke-linecap="butt"/>
<rect x="414.6" y="131.3" width="48.6" height="9.1" fill="none" stroke="#000" stroke-width="1.2"/>
<line x1="463.00" y1="131.50" x2="476.80" y2="131.50" stroke="#000" stroke-width="1.0" stroke-linecap="butt"/>
<line x1="464.50" y1="131.30" x2="464.50" y2="140.40" stroke="#000" stroke-width="1.0" stroke-linecap="butt"/>
<circle cx="428.80" cy="136.10" r="3.3" fill="#fff" stroke="#000" stroke-width="0.8"/>
<circle cx="449.60" cy="136.10" r="3.3" fill="#fff" stroke="#000" stroke-width="0.8"/>
<circle cx="470.40" cy="134.60" r="2.8" fill="#fff" stroke="#000" stroke-width="0.8"/>
<path d="M 375 109.2 A 20.8 20.8 0 0 1 395.8 130" stroke="#000" stroke-width="1.0" fill="none"/>
<rect x="393.50" y="127.00" width="3.00" height="6.00" fill="#000"/>
<path d="M 459.8 162.5 A 16.5 19 0 0 1 476.3 143.5" stroke="#000" stroke-width="1.0" fill="none"/>
<rect x="396.50" y="163.80" width="2.40" height="37.80" fill="#000"/>
<rect x="438.40" y="163.60" width="3.10" height="38.00" fill="#000"/>
<rect x="457.30" y="162.00" width="2.50" height="30.00" fill="#000"/>
<rect x="454.50" y="162.00" width="5.30" height="10.80" fill="#000"/>
<rect x="441.00" y="190.40" width="35.80" height="3.20" fill="#000"/>
<path d="M 443.4 189.5 L 443.4 180.6 A 4.75 5 0 0 1 452.9 180.6 L 452.9 189.5 Z" stroke="#000" stroke-width="1.0" fill="#fff"/>
<path d="M 444.7 186.6 L 444.7 181.1 A 3.45 3.6 0 0 1 451.59999999999997 181.1 L 451.59999999999997 186.6 Z" stroke="#000" stroke-width="0.6" fill="none"/>
<path d="M 462.6 189.5 L 462.6 180.6 A 4.75 5 0 0 1 472.1 180.6 L 472.1 189.5 Z" stroke="#000" stroke-width="1.0" fill="#fff"/>
<path d="M 463.90000000000003 186.6 L 463.90000000000003 181.1 A 3.45 3.6 0 0 1 470.8 181.1 L 470.8 186.6 Z" stroke="#000" stroke-width="0.6" fill="none"/>
<polyline points="398.9,175.1 410.8,163.8 416,169 417.4,172.6 418.8,169 425.1,163.8 438.2,175.1" fill="none" stroke="#000" stroke-width="1.8"/>
<line x1="369.60" y1="174.70" x2="382.20" y2="159.80" stroke="#000" stroke-width="3" stroke-linecap="butt"/>
<polyline points="378.7,175.9 383.4,165.6 392.4,175.3 396.5,175.3" fill="none" stroke="#000" stroke-width="1.8"/>
<path d="M 372.7 155.5 A 9 5 0 0 1 381.4 160" stroke="#000" stroke-width="1.0" fill="none"/>
<path d="M 380 173.5 A 8 8 0 0 1 382.8 166.5" stroke="#000" stroke-width="1.0" fill="none"/>
<path d="M 397.7 163.2 A 8 8 0 0 0 404.3 155.5" stroke="#000" stroke-width="1.0" fill="none"/>
<rect x="369.10" y="174.50" width="27.40" height="3.30" fill="#000"/>
<path d="M 441.5 164.4 A 13 8.4 0 0 1 454.5 172.8" stroke="#000" stroke-width="1.0" fill="none"/>
<rect x="173.00" y="334.40" width="24.50" height="3.80" fill="#000"/>
<rect x="211.30" y="334.40" width="43.70" height="3.80" fill="#000"/>
<rect x="197.50" y="334.00" width="13.80" height="4.60" fill="#fff"/>
<rect x="173.00" y="334.40" width="3.90" height="74.10" fill="#000"/>
<rect x="177.6" y="354.6" width="12.8" height="12.2" fill="#fff" stroke="#000" stroke-width="1.5"/>
<line x1="177.60" y1="354.60" x2="190.40" y2="366.80" stroke="#000" stroke-width="1.0" stroke-linecap="butt"/>
<line x1="177.60" y1="366.80" x2="190.40" y2="354.60" stroke="#000" stroke-width="1.0" stroke-linecap="butt"/>
<line x1="181.50" y1="367.00" x2="181.50" y2="408.50" stroke="#000" stroke-width="1.0" stroke-linecap="butt"/>
<line x1="191.50" y1="367.00" x2="191.50" y2="408.50" stroke="#000" stroke-width="1.0" stroke-linecap="butt"/>
<line x1="197.30" y1="337.60" x2="207.00" y2="344.40" stroke="#000" stroke-width="2.0" stroke-linecap="butt"/>
<path d="M 206.7 344.1 A 9 9 0 0 0 211.3 336" stroke="#000" stroke-width="1.0" fill="none"/>
<polyline points="225.1,339 213.8,348.7 221.5,354.2 223.8,355.6 221.5,357 213.8,361.7 225.1,373.4" fill="none" stroke="#000" stroke-width="1.8"/>
<rect x="212.50" y="374.00" width="41.50" height="3.80" fill="#000"/>
<rect x="246.1" y="377.8" width="3.2" height="30.7" fill="#fff" stroke="#000" stroke-width="0.9"/>
<rect x="213.60" y="387.60" width="32.50" height="3.60" fill="#000"/>
<line x1="216.00" y1="389.40" x2="246.10" y2="389.40" stroke="#fff" stroke-width="0.6" stroke-linecap="butt"/>
<rect x="213.60" y="386.60" width="2.20" height="1.40" fill="#000"/>
<path d="M 220.5 377.8 A 7 10 0 0 1 227.4 387.7" stroke="#000" stroke-width="1.0" fill="none"/>
<path d="M 245.0 379.2 L 236.2 379.2 A 5 4.7 0 0 0 236.2 388.59999999999997 L 245.0 388.59999999999997 Z" stroke="#000" stroke-width="0.9" fill="#fff"/>
<path d="M 242.2 380.59999999999997 L 236.7 380.59999999999997 A 3.6 3.3 0 0 0 236.7 387.2 L 242.2 387.2 Z" stroke="#000" stroke-width="0.6" fill="none"/>
<path d="M 245.0 395.6 L 236.2 395.6 A 5 4.7 0 0 0 236.2 405.0 L 245.0 405.0 Z" stroke="#000" stroke-width="0.9" fill="#fff"/>
<path d="M 242.2 397.0 L 236.7 397.0 A 3.6 3.3 0 0 0 236.7 403.6 L 242.2 403.6 Z" stroke="#000" stroke-width="0.6" fill="none"/>
<path d="M 196.8 408.5 A 17.6 15.5 0 0 1 214.4 393" stroke="#000" stroke-width="1.0" fill="none"/>
<line x1="520.40" y1="236.10" x2="537.20" y2="252.70" stroke="#000" stroke-width="7.2" stroke-linecap="butt"/>
<line x1="522.42" y1="238.09" x2="537.20" y2="252.70" stroke="#fff" stroke-width="0.9" stroke-linecap="butt"/>
<path d="M 539.17 222.56 A 24 24 0 0 1 504.25 255.11" stroke="#000" stroke-width="1.0" fill="none"/>
<path d="M 477.44 306.97 A 21.5 21.5 0 0 1 448.52 304.19" stroke="#000" stroke-width="1.0" fill="none"/>
<line x1="344.30" y1="398.10" x2="363.60" y2="415.50" stroke="#000" stroke-width="7.2" stroke-linecap="butt"/>
<line x1="346.62" y1="400.19" x2="363.60" y2="415.50" stroke="#fff" stroke-width="0.9" stroke-linecap="butt"/>
<path d="M 362.42 385.09 A 24 24 0 0 1 325.74 415.87" stroke="#000" stroke-width="1.0" fill="none"/>
<line x1="327.60" y1="415.60" x2="308.50" y2="429.40" stroke="#000" stroke-width="6.3" stroke-linecap="butt"/>
<line x1="325.31" y1="417.26" x2="308.50" y2="429.40" stroke="#fff" stroke-width="0.9" stroke-linecap="butt"/>
<path d="M 305.65 403.80 A 25 25 0 0 0 306.57 430.28" stroke="#000" stroke-width="1.0" fill="none"/>
<line x1="303.00" y1="399.20" x2="308.70" y2="404.60" stroke="#000" stroke-width="2.4" stroke-linecap="butt"/>
<polygon points="311.50,435.20 330.80,435.20 330.80,421.30" fill="#000" stroke="none" stroke-width="0"/>
<polygon points="318.60,432.70 326.20,432.70 326.20,427.20" fill="#fff" stroke="none" stroke-width="0"/>
<line x1="326.20" y1="413.20" x2="332.00" y2="417.60" stroke="#000" stroke-width="2.6" stroke-linecap="butt"/>
<path d="M 407.5 271 A 17 20.5 0 0 1 424.5 250.5" stroke="#000" stroke-width="1.0" fill="none"/>
<line x1="548.50" y1="217.00" x2="548.50" y2="232.00" stroke="#000" stroke-width="1.0" stroke-linecap="butt"/>
</svg>
</body></html>
